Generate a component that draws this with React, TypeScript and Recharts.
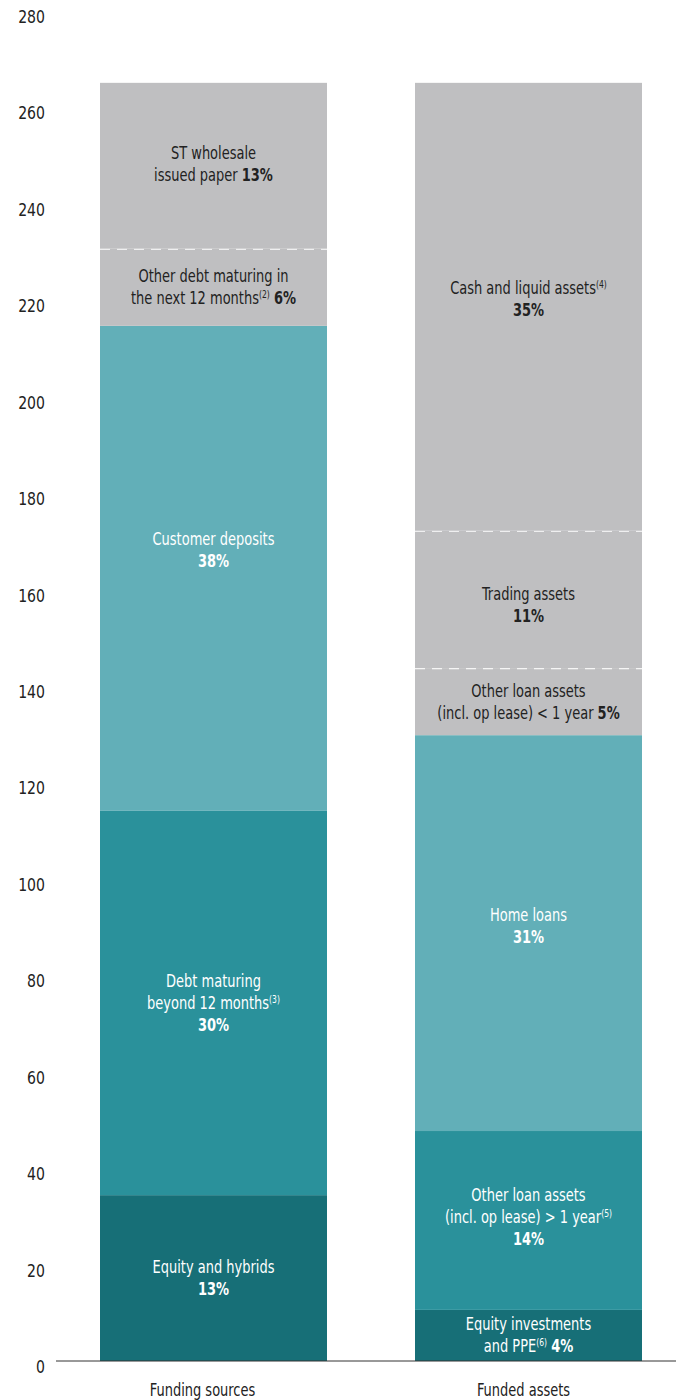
import { BarChart, Bar, XAxis, YAxis } from "recharts";

const categories = ["Funding sources", "Funded assets"];

// segment heights, bottom to top
const fundingValues = [34.4, 79.7, 100.6, 16.0, 34.4];
const assetValues = [10.6, 37.1, 82.1, 13.9, 28.5, 92.9];

const yTicks = [0, 20, 40, 60, 80, 100, 120, 140, 160, 180, 200, 220, 240, 260, 280];

type Span = { t: string; b?: boolean; sup?: boolean };

// label lines for each segment, bottom to top
const fundingLabels: Span[][][] = [
  [[{ t: "Equity and hybrids" }], [{ t: "13%", b: true }]],
  [
    [{ t: "Debt maturing" }],
    [{ t: "beyond 12 months" }, { t: "(3)", sup: true }],
    [{ t: "30%", b: true }],
  ],
  [[{ t: "Customer deposits" }], [{ t: "38%", b: true }]],
  [
    [{ t: "Other debt maturing in" }],
    [{ t: "the next 12 months" }, { t: "(2)", sup: true }, { t: " " }, { t: "6%", b: true }],
  ],
  [[{ t: "ST wholesale" }], [{ t: "issued paper " }, { t: "13%", b: true }]],
];

const assetLabels: Span[][][] = [
  [
    [{ t: "Equity investments" }],
    [{ t: "and PPE" }, { t: "(6)", sup: true }, { t: " " }, { t: "4%", b: true }],
  ],
  [
    [{ t: "Other loan assets" }],
    [{ t: "(incl. op lease) > 1 year" }, { t: "(5)", sup: true }],
    [{ t: "14%", b: true }],
  ],
  [[{ t: "Home loans" }], [{ t: "31%", b: true }]],
  [[{ t: "Other loan assets" }], [{ t: "(incl. op lease) < 1 year " }, { t: "5%", b: true }]],
  [[{ t: "Trading assets" }], [{ t: "11%", b: true }]],
  [[{ t: "Cash and liquid assets" }, { t: "(4)", sup: true }], [{ t: "35%", b: true }]],
];

const GREY = "#bfbfc1";
const LIGHT = "#62afb8";
const MID = "#2a919b";
const DARK = "#176f77";

const fundingFills = [DARK, MID, LIGHT, GREY, GREY];
const assetFills = [DARK, MID, LIGHT, GREY, GREY, GREY];
const fundingDashed = [false, false, false, true, false];
const assetDashed = [false, false, false, true, true, false];
// label nudges from the segment middle, px
const fundingShift = [0, 0, -18, 0, -2];
const assetShift = [0, -3, -7, 0, 6, -8];
const xLabelShift = [-11, -5];

const FONT = "'DejaVu Sans Condensed', 'DejaVu Sans', sans-serif";
const SQUEEZE = 0.85;

const data = categories.map((name, ci) => {
  const row: Record<string, number | string> = { name };
  fundingValues.forEach((v, i) => (row[`f${i}`] = ci === 0 ? v : 0));
  assetValues.forEach((v, i) => (row[`a${i}`] = ci === 1 ? v : 0));
  return row;
});

const squeeze = (cx: number) => `translate(${cx},0) scale(${SQUEEZE},1) translate(${-cx},0)`;

function Segment(props: any) {
  const { x, y, width, height, fill, lines, dashed, shift } = props;
  if (!height || height <= 0.5) return null;
  const color = fill === GREY ? "#222" : "#fff";
  const cx = x + width / 2;
  const cy = y + height / 2 + shift;
  const lh = 22;
  const n = lines.length;
  return (
    <g>
      <rect x={x} y={y} width={width} height={height} fill={fill} />
      {dashed && (
        <line
          x1={x}
          x2={x + width}
          y1={y}
          y2={y}
          stroke="#fff"
          strokeWidth={2}
          strokeDasharray="10 7"
        />
      )}
      {lines.map((line: Span[], i: number) => (
        <text
          key={i}
          x={cx}
          y={cy + (i - (n - 1) / 2) * lh + 6}
          textAnchor="middle"
          fill={color}
          fontFamily={FONT}
          fontSize={17}
          transform={squeeze(cx)}
        >
          {line.map((s, j) => {
            const prevSup = j > 0 && line[j - 1].sup;
            return (
              <tspan
                key={j}
                fontWeight={s.b ? "bold" : "normal"}
                fontSize={s.sup ? 10 : 17}
                dy={s.sup ? -6 : prevSup ? 6 : 0}
              >
                {s.t}
              </tspan>
            );
          })}
        </text>
      ))}
    </g>
  );
}

const YTick = (props: any) => (
  <text
    x={45}
    y={props.y + 12}
    textAnchor="end"
    fill="#222"
    fontFamily={FONT}
    fontSize={17}
    transform={`translate(45,0) scale(0.92,1) translate(-45,0)`}
  >
    {props.payload.value}
  </text>
);

const XTick = (props: any) => {
  const x = props.x + (xLabelShift[props.index] ?? 0);
  return (
    <text
      x={x}
      y={props.y + 27}
      textAnchor="middle"
      fill="#222"
      fontFamily={FONT}
      fontSize={17}
      transform={squeeze(x)}
    >
      {props.payload.value}
    </text>
  );
};

export default function App() {
  return (
    <div style={{ position: "absolute", left: 0, top: 0, width: 676, height: 1400, overflow: "hidden" }}>
      <BarChart
        width={686}
        height={1400}
        data={data}
        margin={{ top: 11, right: 0, bottom: 0, left: 0 }}
        barSize={227}
      >
        <YAxis
          width={56}
          domain={[0, 280]}
          ticks={yTicks}
          interval={0}
          axisLine={false}
          tickLine={false}
          tick={<YTick />}
        />
        <XAxis
          dataKey="name"
          height={39}
          axisLine={{ stroke: "#333", strokeWidth: 1 }}
          tickLine={false}
          tick={<XTick />}
        />
        {fundingValues.map((_, i) => (
          <Bar
            key={`f${i}`}
            dataKey={`f${i}`}
            stackId="s"
            fill={fundingFills[i]}
            isAnimationActive={false}
            shape={(p: any) => (
              <Segment
                {...p}
                fill={fundingFills[i]}
                lines={fundingLabels[i]}
                dashed={fundingDashed[i]}
                shift={fundingShift[i]}
              />
            )}
          />
        ))}
        {assetValues.map((_, i) => (
          <Bar
            key={`a${i}`}
            dataKey={`a${i}`}
            stackId="s"
            fill={assetFills[i]}
            isAnimationActive={false}
            shape={(p: any) => (
              <Segment
                {...p}
                fill={assetFills[i]}
                lines={assetLabels[i]}
                dashed={assetDashed[i]}
                shift={assetShift[i]}
              />
            )}
          />
        ))}
      </BarChart>
    </div>
  );
}
